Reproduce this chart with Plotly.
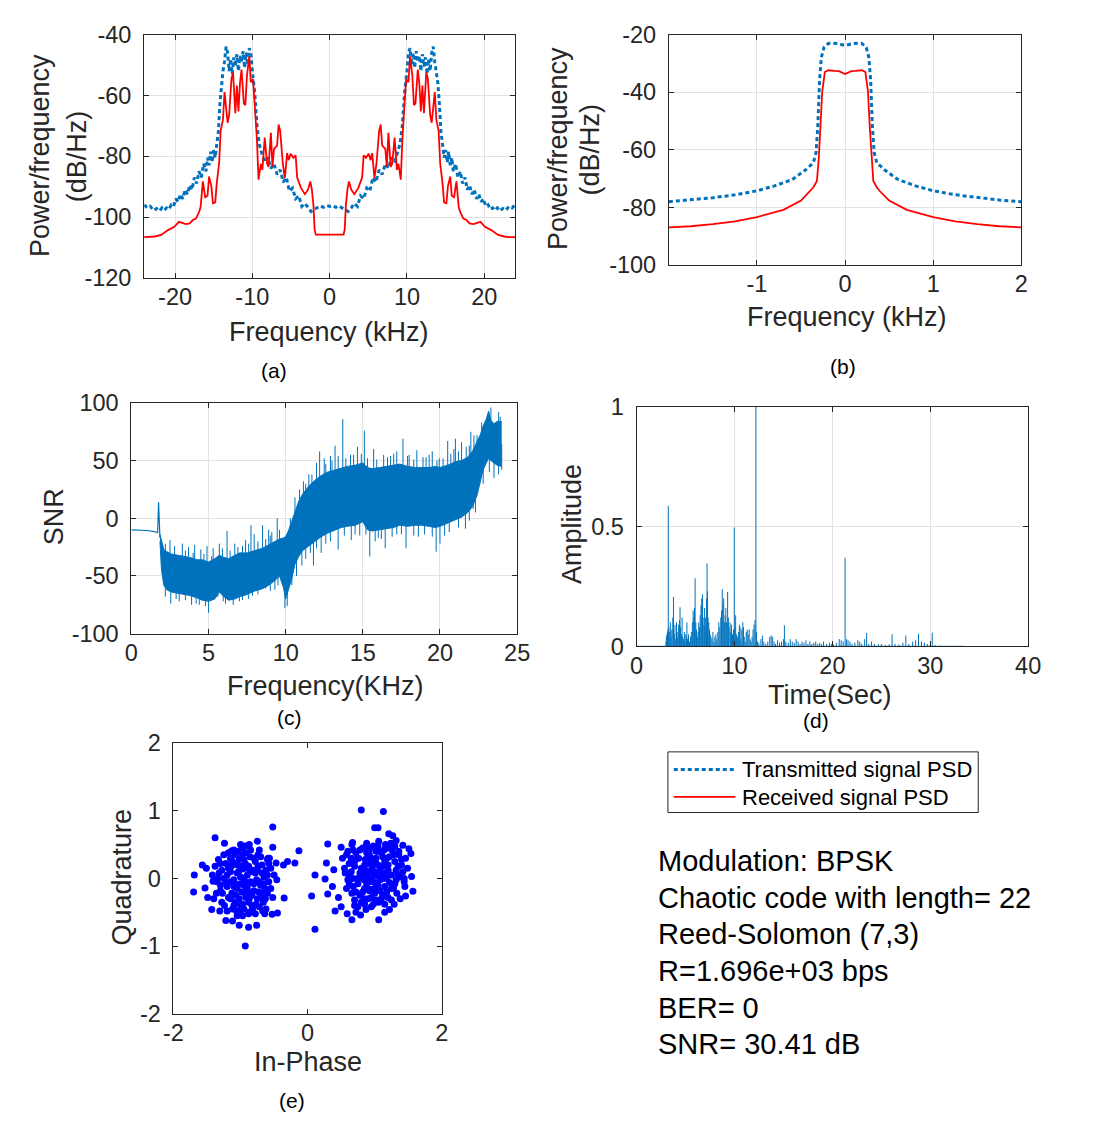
import numpy as np
import plotly.graph_objects as go

W, H = 1096, 1148
FONT = "Liberation Sans, Arial, Helvetica, sans-serif"
AX = "#262626"
BLUE = "#0072BD"
RED = "#FF0000"

# ---------------- Panel (a): two-sided PSD (positive half, mirrored) ----------------
a_tx_freq_half = [0.0, 0.4, 0.8, 1.2, 1.6, 2.0, 2.4, 2.8, 3.2, 3.6, 4.0, 4.4, 4.8, 5.2, 5.6, 6.0,
                  6.4, 6.8, 7.2, 7.6, 8.0, 8.4, 8.8, 9.1, 9.4, 9.7, 10.0, 10.2, 10.4, 10.6, 10.8,
                  11.0, 11.2, 11.4, 11.6, 11.8, 12.0, 12.2, 12.4, 12.6, 12.8, 13.0, 13.2, 13.4,
                  13.6, 13.8, 14.0, 14.2, 14.4, 14.6, 14.8, 15.0, 15.2, 15.4, 15.6, 15.8, 16.0,
                  16.3, 16.6, 16.9, 17.2, 17.5, 17.8, 18.1, 18.4, 18.7, 19.0, 19.3, 19.6, 19.9,
                  20.2, 20.5, 20.8, 21.1, 21.4, 21.7, 22.0, 22.4, 22.8, 23.2, 23.6, 24.0]
a_tx_psd_half = [-96.5, -96.2, -96.8, -96.3, -97.0, -97.5, -98.2, -97.0, -95.5, -96.5, -93.0, -94.0,
                 -90.5, -91.5, -87.0, -88.5, -84.5, -86.0, -82.5, -84.0, -80.5, -82.0, -79.0, -76.0,
                 -70.0, -59.0, -52.0, -46.0, -44.5, -50.0, -46.0, -51.0, -45.5, -49.0, -47.0, -52.0,
                 -46.5, -50.5, -47.5, -53.0, -48.0, -52.0, -46.0, -44.0, -49.0, -52.0, -56.0, -63.0,
                 -72.0, -76.0, -80.5, -78.0, -82.0, -78.5, -83.0, -80.5, -85.0, -82.5, -87.0, -85.0,
                 -89.0, -87.0, -91.0, -89.5, -92.5, -91.0, -94.0, -92.5, -95.0, -94.0, -96.5, -96.0,
                 -97.5, -97.0, -97.8, -97.0, -98.0, -97.2, -97.8, -96.5, -97.0, -96.0]

a_rx_freq_half = [0.0, 1.8, 1.95, 2.1, 2.3, 2.5, 2.8, 3.2, 3.7, 4.2, 4.4, 4.7, 5.05, 5.3, 5.5, 5.8,
                  6.06, 6.4, 6.6, 6.8, 7.2, 7.4, 7.6, 7.9, 8.1, 8.4, 8.7, 8.9, 9.2, 9.4, 9.7, 9.9,
                  10.2, 10.4, 10.7, 10.9, 11.1, 11.4, 11.6, 11.8, 12.0, 12.2, 12.5, 12.7, 13.0,
                  13.2, 13.6, 13.8, 14.1, 14.3, 14.6, 14.8, 15.1, 15.3, 15.6, 15.8, 16.1, 16.4,
                  16.7, 16.9, 17.3, 17.7, 18.1, 18.6, 19.5, 20.1, 20.9, 21.8, 22.6, 23.2, 24.0]
a_rx_psd_half = [-105.8, -105.8, -104.0, -96.0, -91.0, -88.3, -91.0, -92.5, -90.5, -87.0, -79.7,
                 -80.5, -79.2, -81.3, -79.0, -87.2, -82.4, -71.7, -69.6, -76.5, -77.6, -83.5, -72.3,
                 -83.5, -82.4, -73.9, -84.5, -82.5, -87.7, -74.9, -62.0, -54.7, -55.7, -47.2, -53.6,
                 -63.2, -62.7, -51.5, -56.0, -65.3, -56.8, -65.9, -52.5, -54.5, -66.4, -69.0, -58.9,
                 -68.0, -71.7, -82.4, -88.8, -95.2, -95.5, -89.9, -86.7, -93.0, -93.5, -88.3, -96.8,
                 -98.4, -100.5, -101.0, -102.1, -102.3, -101.6, -103.2, -104.3, -105.9, -106.4,
                 -106.6, -106.6]

# ---------------- Panel (b): baseband PSD (positive half, mirrored) ----------------
b_tx_freq_half = [0.0, 0.09, 0.15, 0.19, 0.24, 0.27, 0.29, 0.31, 0.33, 0.36, 0.45, 0.6, 0.8, 1.0,
                  1.25, 1.5, 1.75, 2.0]
b_tx_psd_half = [-23.8, -23.1, -23.0, -23.1, -24.5, -28.0, -36.0, -52.0, -61.0, -64.5, -67.0, -70.3,
                 -72.5, -74.2, -75.6, -76.6, -77.4, -78.0]
b_rx_freq_half = [0.0, 0.07, 0.12, 0.19, 0.23, 0.26, 0.28, 0.30, 0.32, 0.36, 0.39, 0.5, 0.7, 1.0,
                  1.25, 1.5, 1.75, 2.0]
b_rx_psd_half = [-33.7, -32.7, -32.6, -32.4, -33.0, -40.0, -52.0, -63.5, -70.8, -73.0, -74.2, -77.6,
                 -80.8, -83.3, -84.8, -85.8, -86.5, -86.9]

# ---------------- Panel (c): SNR vs frequency ----------------
c_init_freq = [0.0, 0.5, 1.0, 1.5, 1.7, 1.76, 1.8, 1.85]
c_init_snr = [-10.0, -10.2, -10.6, -11.5, -12.5, 13.8, -5.0, -17.0]
c_env_freq = [1.85, 1.95, 2.1, 2.3, 2.6, 3.0, 3.4, 3.8, 4.25, 4.6, 5.0, 5.4, 5.7, 6.0, 6.3, 6.7, 7.0,
              7.5, 8.0, 8.5, 8.9, 9.3, 9.6, 9.85, 10.0, 10.2, 10.4, 10.6, 10.85, 11.1, 11.5, 11.9,
              12.3, 12.7, 13.2, 13.6, 14.0, 14.5, 15.0, 15.3, 15.6, 16.1, 16.6, 17.0, 17.4, 17.9,
              18.4, 18.8, 19.3, 19.7, 20.0, 20.5, 21.0, 21.4, 21.8, 22.1, 22.4, 22.6, 22.8, 23.0,
              23.15, 23.3, 23.5, 23.7, 24.0]
c_env_upper = [-14, -20, -27, -29, -31, -32, -33, -34, -36, -36, -38, -35, -32, -34, -35, -32, -30,
               -30, -28, -26, -23, -20, -18, -17, -16, -10, -2, 6, 15, 21, 28, 33, 37, 40, 42, 44,
               45, 46, 48, 44, 43, 44, 45, 46, 47, 45, 44, 44, 44, 45, 44, 46, 49, 50, 53, 58, 66,
               72, 80, 86, 93, 85, 82, 84, 84]
c_env_lower = [-20, -45, -58, -62, -64, -65, -66, -67, -69, -71, -72, -70, -64, -68, -71, -70, -68,
               -66, -63, -61, -58, -54, -50, -60, -70, -62, -52, -40, -33, -28, -24, -20, -16, -13,
               -10, -8, -7, -6, -3, -10, -11, -10, -9, -8, -6, -7, -6, -6, -7, -8, -7, -4, -1, 1, 5,
               10, 20, 30, 42, 48, 52, 50, 48, 46, 45]
c_spike_freq = [13.7, 15.1, 17.6, 12.2, 13.2, 14.65, 15.7, 17.2, 18.5, 19.5, 21.0, 21.4, 22.0, 22.2,
                6.2, 2.5, 3.3, 7.75, 8.5, 9.45, 8.9, 7.96, 7.4, 5.7, 4.9, 4.1, 10.6, 11.15, 11.5,
                12.5, 14.2, 16.35, 19.95, 20.5, 22.7, 3.7, 4.5, 5.3, 6.7, 9.1, 12.9, 14.9, 16.8,
                18.0, 19.1, 20.9, 21.7, 23.3,
                2.2, 2.8, 3.5, 4.0, 4.7, 5.2, 5.9, 6.4, 6.9, 7.2, 7.6, 8.2, 8.7, 9.0, 9.6, 10.3,
                10.9, 11.3, 11.7, 12.0, 12.6, 13.0, 13.4, 13.9, 14.4, 15.3, 15.9, 16.6, 17.0, 17.9,
                18.3, 18.9, 19.3, 19.8, 20.2, 20.7, 21.2, 21.9, 22.4, 23.8, 23.9,
                5.0, 9.95, 2.55, 3.9, 6.6, 13.4, 15.45, 16.45, 17.8, 19.75, 14.25, 21.65, 22.15,
                23.5, 24.0, 12.3, 11.8, 11.05, 10.7, 8.7, 7.85, 5.95, 3.1, 4.4, 7.2, 9.3, 12.6,
                14.8, 16.0, 17.2, 18.6, 20.3,
                2.2, 2.9, 3.5, 4.2, 4.8, 5.6, 6.1, 7.0, 7.6, 8.2, 9.0, 9.5, 10.1, 10.4, 11.3, 11.6,
                12.0, 12.9, 13.8, 14.5, 15.2, 15.8, 16.2, 16.9, 17.5, 18.3, 19.0, 19.5, 20.0, 20.6,
                21.2, 21.9, 22.3, 22.8, 23.2, 23.8]
c_spike_snr = [86, 76, 69, 58, 63, 62, 60, 58, 59, 58, 69, 66, 75, 72,
               -11, -19, -22, -6, -6, 0, -10, -14, -19, -22, -24, -23, 18, 32, 38,
               52, 55, 55, 52, 67, 83, -25, -27, -26, -22, -12, 54, 56, 54,
               55, 53, 60, 62, 96,
               -22, -24, -28, -30, -31, -33, -26, -28, -25, -24, -22, -20, -18, -15, -10, 0,
               25, 30, 38, 48, 47, 50, 54, 52, 55, 52, 51, 53, 56, 54,
               51, 53, 55, 50, 52, 56, 58, 63, 72, 92, 88,
               -82, -78, -74, -75, -75, -27, -33, -26, -26, -29, -19, -9, 8,
               35, 42, -30, -41, -41, -50, -61, -67, -72, -72, -75, -71, -62, -22,
               -15, -17, -14, -16, -15,
               -68, -70, -71, -74, -76, -68, -74, -72, -70, -66, -63, -58, -76, -58, -35, -30,
               -26, -20, -15, -14, -14, -20, -18, -16, -14, -15, -14, -16, -22, -12,
               -8, -2, 5, 30, 40, 38]

# ---------------- Panel (d): amplitude vs time ----------------
d_time = [3.0, 3.05, 3.1, 3.15, 3.2, 3.24, 3.3, 3.38, 3.45, 3.52, 3.6, 3.7, 3.77, 3.85, 3.92, 4.0,
          4.08, 4.15, 4.22, 4.3, 4.38, 4.44, 4.5, 4.58, 4.65, 4.72, 4.8, 4.88, 4.95, 5.03, 5.1, 5.14,
          5.2, 5.3, 5.4, 5.5, 5.6, 5.7, 5.78, 5.85, 5.92, 5.98, 6.05, 6.12, 6.2, 6.28, 6.35, 6.42,
          6.5, 6.58, 6.65, 6.74, 6.8, 6.88, 6.95, 7.02, 7.1, 7.15, 7.2, 7.25, 7.3, 7.38, 7.45, 7.52,
          7.6, 7.7, 7.8, 7.9, 8.0, 8.1, 8.2, 8.3, 8.4, 8.5, 8.6, 8.68, 8.75, 8.82, 8.9, 8.97, 9.05,
          9.12, 9.2, 9.3, 9.38, 9.45, 9.55, 9.62, 9.7, 9.8, 9.9, 9.98, 10.05, 10.12, 10.2, 10.3,
          10.4, 10.5, 10.58, 10.65, 10.75, 10.85, 10.92, 11.0, 11.1, 11.2, 11.3, 11.4, 11.5, 11.6,
          11.7, 11.8, 11.9, 12.0, 12.1, 12.19, 12.25, 12.35, 12.5, 12.7, 12.85, 13.0, 13.2, 13.4,
          13.6, 13.75, 13.9, 14.05, 14.2, 14.4, 14.6, 14.8, 15.0, 15.1, 15.25, 15.5, 15.7, 15.9,
          16.1, 16.3, 16.5, 16.7, 16.9, 17.1, 17.3, 17.5, 17.7, 17.9, 18.1, 18.3, 18.5, 18.7, 18.9,
          19.1, 19.4, 19.7, 19.9, 20.1, 20.4, 20.7, 20.9, 21.1, 21.3, 21.45, 21.6, 21.8, 22.0,
          22.3, 22.6, 22.8, 23.0, 23.3, 23.5, 23.7, 24.0, 24.3, 24.7, 25.0, 25.4, 25.8, 26.1, 26.4,
          26.8, 27.2, 27.5, 27.8, 28.2, 28.5, 28.8, 29.1, 29.4, 29.7, 30.0, 30.2, 30.5, 31.0]
d_amp = [0.02, 0.04, 0.05, 0.06, 0.07, 0.587, 0.08, 0.06, 0.10, 0.04, 0.07, 0.12, 0.206, 0.05, 0.09,
         0.03, 0.10, 0.06, 0.04, 0.09, 0.11, 0.163, 0.08, 0.05, 0.12, 0.04, 0.03, 0.06, 0.02, 0.05,
         0.04, 0.10, 0.03, 0.05, 0.02, 0.04, 0.06, 0.10, 0.15, 0.12, 0.16, 0.284, 0.10, 0.07, 0.04,
         0.06, 0.10, 0.08, 0.13, 0.17, 0.20, 0.217, 0.12, 0.09, 0.16, 0.12, 0.08, 0.20, 0.346, 0.23,
         0.12, 0.10, 0.07, 0.05, 0.04, 0.03, 0.06, 0.02, 0.04, 0.05, 0.03, 0.06, 0.10, 0.08, 0.12,
         0.15, 0.238, 0.18, 0.20, 0.10, 0.13, 0.16, 0.10, 0.227, 0.12, 0.08, 0.10, 0.06, 0.09, 0.05,
         0.07, 0.496, 0.08, 0.13, 0.05, 0.04, 0.06, 0.09, 0.08, 0.03, 0.07, 0.10, 0.08, 0.04, 0.02,
         0.06, 0.07, 0.05, 0.07, 0.03, 0.02, 0.04, 0.07, 0.09, 0.11, 1.0, 0.06, 0.02, 0.015, 0.03,
         0.045, 0.02, 0.01, 0.02, 0.04, 0.045, 0.04, 0.02, 0.01, 0.025, 0.015, 0.02, 0.03, 0.088,
         0.02, 0.015, 0.03, 0.02, 0.015, 0.03, 0.02, 0.01, 0.02, 0.015, 0.025, 0.01, 0.02, 0.01,
         0.015, 0.02, 0.01, 0.015, 0.01, 0.02, 0.01, 0.015, 0.01, 0.008, 0.015, 0.03, 0.025, 0.02,
         0.37, 0.03, 0.025, 0.02, 0.01, 0.015, 0.025, 0.02, 0.01, 0.03, 0.056, 0.01, 0.02, 0.01,
         0.008, 0.01, 0.005, 0.008, 0.05, 0.01, 0.008, 0.015, 0.045, 0.01, 0.02, 0.025, 0.053, 0.02,
         0.015, 0.01, 0.012, 0.057, 0.005, 0.003]
d_baseline_time = [0.0, 33.4]
d_baseline_amp = [0.0, 0.0]

# ---------------- Panel (e): constellation ----------------
e_left_i = [-0.95, -0.85, -1.05, -0.90, -1.00, -0.80, -1.10, -0.92, -1.02, -0.78, -1.15, -0.70,
            -1.20, -0.88, -1.05, -0.75, -1.18, -0.97, -0.65, -1.25, -0.83, -1.10, -0.68, -1.22,
            -0.95, -0.60, -1.30, -0.72, -1.15, -0.80, -1.00, -0.62, -1.32, -0.88, -1.28, -0.58,
            -0.70, -1.08, -0.92, -1.35, -0.66, -1.20, -0.55, -0.78, -1.05, -1.38, -0.60, -1.25,
            -0.85, -0.52, -0.93, -0.98, -0.87, -1.13, -0.76, -1.03, -0.82, -1.17, -0.73, -0.97,
            -0.90, -1.08, -0.85, -1.00, -0.93, -1.12, -0.64, -1.27, -0.74, -0.95, -1.18, -0.68,
            -1.40, -0.57, -0.50, -1.33, -0.62, -1.10, -0.98, -0.72,
            -0.90, -1.00, -0.80, -1.10, -0.95, -0.95, -0.85, -1.05, -0.75, -1.15, -0.88, -1.08,
            -0.70, -1.22, -0.65, -1.28, -0.82, -1.02, -0.78, -1.20, -0.92, -1.12, -0.72, -0.98,
            -0.60, -1.30, -0.86, -1.06, -0.68, -1.24, -0.90, -1.00, -0.83, -1.07, -0.77, -1.14,
            -0.63, -1.34, -0.88, -0.97, -1.18, -0.74, -0.58, -1.36, -0.55, -1.42, -0.93, -1.04,
            -0.67, -1.30,
            -1.69, -1.70, -1.38, -1.57, -1.51, -1.49, -1.53, -1.43, -1.24, -1.13, -1.00, -0.87,
            -0.75, -0.52, -0.52, -0.47, -0.36, -0.30, -0.19, -0.13, -0.46, -0.35, -0.45, -0.53,
            -0.64, -0.76, -0.88, -1.02, -1.12, -1.22, -0.93, -1.31, -1.41, -0.59]
e_left_q = [-0.10, -0.05, -0.15, 0.05, 0.02, -0.18, -0.02, -0.25, -0.30, 0.08, 0.10, -0.10, -0.12,
            0.18, 0.20, -0.30, -0.28, -0.38, 0.02, 0.00, -0.40, -0.40, 0.20, 0.22, 0.28, -0.22,
            -0.18, -0.42, 0.30, 0.30, -0.48, 0.12, 0.08, -0.50, -0.35, -0.05, 0.32, 0.35, 0.38,
            -0.05, -0.35, -0.48, 0.15, -0.52, -0.55, 0.18, 0.28, 0.35, 0.42, -0.28, -0.05, -0.20,
            -0.30, -0.22, -0.02, 0.10, 0.12, -0.05, -0.20, 0.14, -0.15, -0.08, -0.22, -0.40, 0.22,
            0.25, -0.15, -0.22, 0.18, -0.45, 0.15, -0.28, -0.30, 0.30, 0.05, 0.28, -0.45, 0.42,
            0.45, 0.42,
            -0.10, -0.08, -0.08, -0.12, 0.00, -0.20, 0.10, 0.08, 0.12, -0.30, -0.35, -0.35,
            -0.22, -0.05, -0.08, 0.12, -0.45, 0.28, 0.25, 0.05, -0.28, -0.45, -0.05, 0.35,
            0.05, -0.10, 0.32, -0.48, 0.08, -0.40, 0.15, 0.18, -0.25, -0.25, -0.38, 0.18,
            -0.30, 0.00, -0.52, -0.55, 0.38, 0.35, 0.22, -0.22, -0.15, 0.05, 0.48, 0.40,
            -0.48, 0.22,
            0.05, -0.20, 0.60, 0.20, 0.15, -0.28, -0.14, -0.46, 0.52, 0.41, 0.50, 0.50, 0.55, 0.76,
            0.46, 0.23, 0.20, 0.25, 0.23, 0.41, -0.02, -0.29, -0.51, -0.53, -0.52, -0.69, -0.72,
            -0.69, -0.63, -0.62, -1.00, -0.48, -0.04, 0.30]
e_right_i = [0.98, 1.08, 0.88, 1.02, 0.92, 1.15, 0.80, 1.20, 0.85, 1.05, 0.75, 1.25, 0.95, 1.12,
             0.70, 1.30, 0.78, 1.00, 1.18, 0.65, 1.35, 0.88, 1.05, 0.68, 1.28, 0.72, 0.90, 1.10,
             0.60, 1.38, 0.82, 1.20, 0.62, 1.33, 0.70, 0.98, 1.40, 0.58, 1.25, 0.85, 0.96, 1.04,
             0.90, 1.12, 0.84, 1.00, 1.16, 0.78, 0.94, 1.08, 1.22, 0.74, 1.02, 1.18, 0.86, 0.66,
             1.32, 0.92, 1.14, 1.28, 0.62, 0.80, 1.02, 1.36, 0.68, 0.55, 1.42, 1.24, 0.88, 0.75,
             1.06, 0.58, 1.45, 1.15, 0.95, 0.66, 1.30, 0.52, 1.38, 0.72,
             1.00, 0.90, 1.10, 0.95, 1.05, 0.85, 1.15, 0.80, 1.20, 0.88, 1.08, 0.75, 1.25, 0.92,
             1.10, 0.70, 1.30, 0.82, 1.00, 1.15, 0.65, 1.35, 0.95, 1.12, 0.72, 1.26, 0.78, 1.05,
             0.62, 1.40, 0.86, 0.98, 1.18, 0.76, 1.22, 0.92, 1.06, 0.84, 1.32, 0.68, 1.02, 0.60,
             1.36, 0.88, 1.16, 0.70, 1.20, 0.56, 1.44, 0.98,
             0.80, 1.13, 1.00, 1.05, 1.21, 1.27, 1.32, 1.42, 1.51, 1.54, 1.46, 1.49, 1.55, 1.57,
             1.46, 1.29, 1.22, 1.15, 1.06, 0.87, 0.79, 0.66, 0.59, 0.50, 0.41, 0.46, 0.30, 0.26,
             0.28, 0.30, 0.39, 0.37, 0.50, 0.67, 0.11, 0.06, 0.11, 1.44]
e_right_q = [0.08, 0.12, 0.04, 0.22, -0.05, 0.00, 0.15, 0.20, -0.15, -0.10, 0.00, 0.05, 0.30, 0.32,
             0.25, -0.08, -0.25, -0.22, -0.20, 0.10, 0.18, 0.38, 0.40, -0.12, 0.35, 0.38, -0.30,
             -0.30, -0.02, 0.02, 0.45, 0.45, 0.22, -0.22, -0.32, 0.48, 0.28, 0.35, -0.32, -0.38,
             0.16, 0.04, 0.22, 0.18, -0.02, -0.06, 0.08, 0.08, -0.16, -0.18, -0.06, 0.30, 0.30, 0.30,
             0.28, -0.22, 0.12, 0.42, 0.42, -0.14, 0.05, -0.35, -0.32, 0.35, 0.42, 0.15, 0.10, 0.52,
             0.52, -0.42, 0.55, -0.15, -0.12, -0.38, -0.42, 0.50, 0.48, 0.30, -0.30, -0.50,
             0.10, 0.10, 0.06, 0.00, 0.20, 0.20, 0.25, 0.05, 0.12, -0.08, -0.02, -0.08, -0.15, 0.35,
             0.38, 0.18, 0.25, -0.20, -0.15, -0.12, 0.30, 0.05, -0.28, -0.25, -0.20, 0.42, 0.42, 0.48,
             -0.08, 0.20, 0.12, 0.22, 0.02, 0.30, 0.32, -0.18, -0.35, -0.30, -0.02, 0.00, 0.40, 0.40,
             0.40, 0.48, 0.50, -0.40, -0.28, 0.08, -0.05, -0.38,
             1.01, 0.99, 0.75, 0.75, 0.66, 0.63, 0.56, 0.49, 0.44, 0.37, 0.30, 0.15, 0.03, -0.19,
             -0.26, -0.38, -0.46, -0.50, -0.61, -0.46, -0.54, -0.61, -0.52, -0.42, -0.48, -0.28,
             -0.23, -0.01, 0.23, 0.51, 0.13, -0.12, 0.46, 0.53, 0.05, -0.26, -0.75, 0.00]

# ---------------- Texts ----------------
legend_labels = ["Transmitted signal PSD", "Received signal PSD"]
info_lines = ["Modulation: BPSK", "Chaotic code with length= 22", "Reed-Solomon (7,3)",
              "R=1.696e+03 bps", "BER= 0", "SNR= 30.41 dB"]
panel_labels = ["(a)", "(b)", "(c)", "(d)", "(e)"]


def mirror(f, v):
    f = np.asarray(f, float)
    v = np.asarray(v, float)
    return np.concatenate([-f[::-1], f[1:]]), np.concatenate([v[::-1], v[1:]])


def px(x):
    return x / W


def py(y):
    return 1 - y / H


def dom_x(l, r):
    return [px(l), px(r)]


def dom_y(t, b):
    return [py(b), py(t)]


fig = go.Figure()

# (a)
fa, va = mirror(a_tx_freq_half, a_tx_psd_half)
fr, vr = mirror(a_rx_freq_half, a_rx_psd_half)
fig.add_trace(go.Scatter(x=fa, y=va, mode="lines", line=dict(color=BLUE, width=3, dash="4px,3px"),
                         xaxis="x", yaxis="y", showlegend=False))
fig.add_trace(go.Scatter(x=fr, y=vr, mode="lines", line=dict(color=RED, width=1.8),
                         xaxis="x", yaxis="y", showlegend=False))
# (b)
fb, vb = mirror(b_tx_freq_half, b_tx_psd_half)
fbr, vbr = mirror(b_rx_freq_half, b_rx_psd_half)
fig.add_trace(go.Scatter(x=fb, y=vb, mode="lines", line=dict(color=BLUE, width=3, dash="4px,3px"),
                         xaxis="x2", yaxis="y2", showlegend=False))
fig.add_trace(go.Scatter(x=fbr, y=vbr, mode="lines", line=dict(color=RED, width=1.8),
                         xaxis="x2", yaxis="y2", showlegend=False))
# (c)
fig.add_trace(go.Scatter(x=c_init_freq, y=c_init_snr, mode="lines", line=dict(color=BLUE, width=1.2),
                         xaxis="x3", yaxis="y3", showlegend=False))
fig.add_trace(go.Scatter(x=c_env_freq, y=c_env_lower, mode="lines", line=dict(color=BLUE, width=1),
                         xaxis="x3", yaxis="y3", showlegend=False))
fig.add_trace(go.Scatter(x=c_env_freq, y=c_env_upper, mode="lines", line=dict(color=BLUE, width=1),
                         fill="tonexty", fillcolor=BLUE, xaxis="x3", yaxis="y3", showlegend=False))
mid = (np.interp(c_spike_freq, c_env_freq, c_env_upper) + np.interp(c_spike_freq, c_env_freq, c_env_lower)) / 2
sx, sy = [], []
for f, v, m in zip(c_spike_freq, c_spike_snr, mid):
    sx += [f, f, None]
    sy += [m, v, None]
fig.add_trace(go.Scatter(x=sx, y=sy, mode="lines", line=dict(color=BLUE, width=1),
                         xaxis="x3", yaxis="y3", showlegend=False))
# (d)
fig.add_trace(go.Scatter(x=d_baseline_time, y=d_baseline_amp, mode="lines", line=dict(color=BLUE, width=1),
                         xaxis="x4", yaxis="y4", showlegend=False))
dx, dy = [], []
for t, a in zip(d_time, d_amp):
    dx += [t, t, None]
    dy += [0, a, None]
fig.add_trace(go.Scatter(x=dx, y=dy, mode="lines", line=dict(color=BLUE, width=1),
                         xaxis="x4", yaxis="y4", showlegend=False))
# (e)
fig.add_trace(go.Scatter(x=e_left_i + e_right_i, y=e_left_q + e_right_q, mode="markers",
                         marker=dict(color="#0000FF", size=7, line=dict(width=0)),
                         xaxis="x5", yaxis="y5", showlegend=False))


def axis(domain, rng, tickvals, anchor, grid=True, standoff=6):
    return dict(domain=domain, range=rng, tickvals=tickvals,
                ticktext=[("%g" % t) for t in tickvals], anchor=anchor,
                showline=True, linecolor=AX, linewidth=1, mirror="ticks",
                ticks="inside", ticklen=5, tickcolor=AX, tickwidth=1,
                tickfont=dict(family=FONT, size=23.5, color=AX),
                showgrid=grid, gridcolor="#e2e2e2", gridwidth=1, zeroline=False,
                ticklabelstandoff=standoff, fixedrange=True)


XS = -2
YS = 7
layout = dict(
    width=W, height=H, margin=dict(l=0, r=0, t=0, b=0),
    paper_bgcolor="white", plot_bgcolor="white", showlegend=False,
    font=dict(family=FONT, color=AX),
    xaxis=axis(dom_x(137, 516), [-24, 24], [-20, -10, 0, 10, 20], "y", standoff=XS),
    yaxis=axis(dom_y(22, 271), [-120, -40], [-120, -100, -80, -60, -40], "x", standoff=YS),
    xaxis2=axis(dom_x(673, 1033), [-2, 2], [-1, 0, 1, 2], "y2", standoff=XS),
    yaxis2=axis(dom_y(22, 258), [-100, -20], [-100, -80, -60, -40, -20], "x2", standoff=YS),
    xaxis3=axis(dom_x(124, 518), [0, 25], [0, 5, 10, 15, 20, 25], "y3", standoff=XS),
    yaxis3=axis(dom_y(399, 635), [-100, 100], [-100, -50, 0, 50, 100], "x3", standoff=YS),
    xaxis4=axis(dom_x(640, 1040), [0, 40], [0, 10, 20, 30, 40], "y4", standoff=XS),
    yaxis4=axis(dom_y(403, 648), [0, 1], [0, 0.5, 1], "x4", standoff=YS),
    xaxis5=axis(dom_x(167, 441), [-2, 2], [-2, 0, 2], "y5", grid=False, standoff=XS),
    yaxis5=axis(dom_y(747, 1024), [-2, 2], [-2, -1, 0, 1, 2], "x5", grid=False, standoff=YS),
)
fig.update_layout(**layout)

ann = []


def text(x, y, s, size=27, angle=0, xanchor="center", color=AX):
    ann.append(dict(x=px(x), y=py(y), xref="paper", yref="paper", text=s, showarrow=False,
                    textangle=angle, xanchor=xanchor, yanchor="middle",
                    font=dict(family=FONT, size=size, color=color)))


# axis titles
text(326, 326, "Frequency (kHz)")
text(855, 311, "Frequency (kHz)")
text(322, 689, "Frequency(KHz)")
text(838, 698, "Time(Sec)")
text(304, 1073, "In-Phase")
text(30, 146, "Power/frequency", angle=-90)
text(68, 147, "(dB/Hz)", angle=-90)
text(560, 139, "Power/frequency", angle=-90)
text(592, 140, "(dB/Hz)", angle=-90)
text(45, 516, "SNR", angle=-90)
text(574, 523, "Amplitude", angle=-90)
text(114, 884, "Quadrature", angle=-90)
# panel labels
for (x, y), s in zip([(270, 366), (851, 362), (285, 721), (823, 724), (288, 1113)], panel_labels):
    text(x, y, s, size=21, color="#000000")
# info block
for i, s in enumerate(info_lines):
    text(660, 868 + i * 37.4, s, size=29, xanchor="left", color="#000000")
# manual legend
for i, s in enumerate(legend_labels):
    text(746, 774 + i * 29, s, size=22, xanchor="left", color="#000000")

shapes = [
    dict(type="rect", xref="paper", yref="paper", x0=px(672), x1=px(989), y0=py(818), y1=py(756),
         line=dict(color=AX, width=1), fillcolor="white", layer="below"),
    dict(type="line", xref="paper", yref="paper", x0=px(678), x1=px(741), y0=py(774), y1=py(774),
         line=dict(color=BLUE, width=3, dash="4px,3px")),
    dict(type="line", xref="paper", yref="paper", x0=px(678), x1=px(741), y0=py(802), y1=py(802),
         line=dict(color=RED, width=1.8)),
]
fig.update_layout(annotations=ann, shapes=shapes)

fig.write_html("out.html", config=dict(displayModeBar=False))
